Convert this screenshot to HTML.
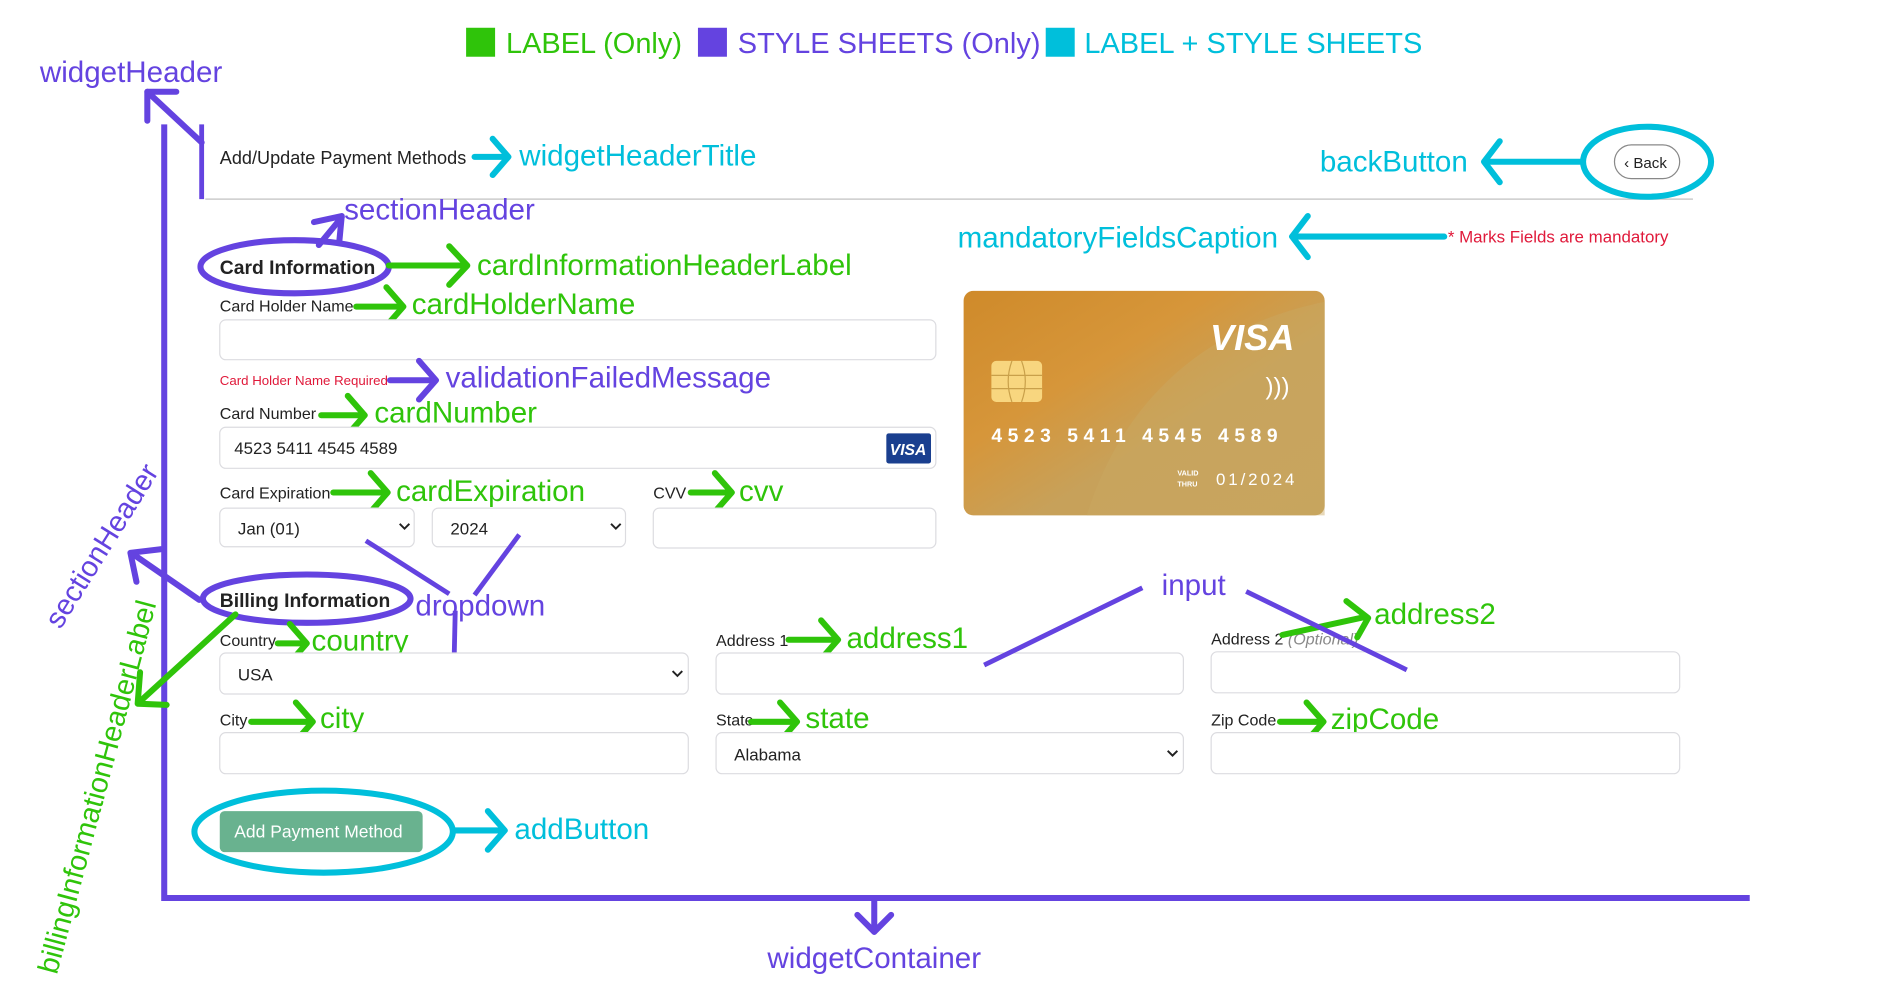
<!DOCTYPE html>
<html><head><meta charset="utf-8"><style>
html,body{margin:0;padding:0;background:#fff;width:1891px;height:997px;overflow:hidden}
svg{display:block}
.lab{font-family:"Liberation Sans",sans-serif;font-size:24.5px}
.g{fill:#2fc40a}.p{fill:#6443e0}.c{fill:#00bfdb}
.ui{font-family:"Liberation Sans",sans-serif;font-size:13.3px;fill:#222}
.ag{stroke:#2fc40a;stroke-width:5;fill:none;stroke-linecap:round;stroke-linejoin:round}
.ap{stroke:#6443e0;stroke-width:5;fill:none;stroke-linecap:round;stroke-linejoin:round}
.ac{stroke:#00bfdb;stroke-width:5;fill:none;stroke-linecap:round;stroke-linejoin:round}
.box{fill:#fff;stroke:#dcdce0;stroke-width:1}
</style></head><body>
<svg width="1891" height="997" viewBox="0 0 1566 826" preserveAspectRatio="none" xmlns="http://www.w3.org/2000/svg">
<defs>
<linearGradient id="gold" x1="0" y1="0" x2="1" y2="1">
<stop offset="0" stop-color="#cf8a2a"/><stop offset="0.35" stop-color="#d6963a"/><stop offset="0.6" stop-color="#c7a15a"/><stop offset="1" stop-color="#c5a25c"/>
</linearGradient>
</defs>
<rect x="386" y="23" width="24" height="24" fill="#2fc40a"/>
<text x="419" y="44" class="lab g" style="font-size:24px">LABEL (Only)</text>
<rect x="578" y="23" width="24" height="24" fill="#6443e0"/>
<text x="611" y="44" class="lab p" style="font-size:24px">STYLE SHEETS (Only)</text>
<rect x="866" y="23" width="24" height="24" fill="#00bfdb"/>
<text x="898" y="44" class="lab c" style="font-size:24px">LABEL + STYLE SHEETS</text>

<text x="33" y="68" class="lab p">widgetHeader</text>
<polyline class="ap" points="167,118 122,76"/>
<polyline class="ap" points="122,100 122,76 146,76"/>
<line x1="167" y1="103" x2="167" y2="165" stroke="#6443e0" stroke-width="4"/>
<line x1="170" y1="165" x2="1402" y2="165" stroke="#ccc" stroke-width="1.2"/>
<path d="M136,103 V744 H1449" stroke="#6443e0" stroke-width="5" fill="none"/>
<polyline class="ap" points="724,746 724,772"/>
<polyline class="ap" points="710,758 724,772 738,758"/>
<text x="724" y="802" class="lab p" text-anchor="middle">widgetContainer</text>

<text x="182" y="136" class="ui" style="font-size:15px">Add/Update Payment Methods</text>
<polyline class="ac" points="393,130 420,130"/><polyline class="ac" points="408,115 421,130 408,145"/>
<text x="430" y="137" class="lab c">widgetHeaderTitle</text>

<text x="1093" y="142" class="lab c">backButton</text>
<polyline class="ac" points="1310,134 1230,134"/><polyline class="ac" points="1242,117 1229,134 1242,151"/>
<ellipse cx="1364" cy="134" rx="53" ry="29" fill="none" stroke="#00bfdb" stroke-width="5"/>
<rect x="1337" y="120" width="54" height="28" rx="14" fill="#fff" stroke="#888" stroke-width="1"/>
<text x="1345" y="139" class="ui" style="font-size:12.5px">‹ Back</text>

<text x="793" y="205" class="lab c">mandatoryFieldsCaption</text>
<polyline class="ac" points="1196,196 1071,196"/><polyline class="ac" points="1083,179 1070,196 1083,213"/>
<text x="1199" y="201" class="ui" style="fill:#e0193a;font-size:14px">* Marks Fields are mandatory</text>

<text x="285" y="182" class="lab p">sectionHeader</text>
<polyline class="ap" points="264,203 283,180"/><polyline class="ap" points="260,184 283,179 281,200"/>
<text x="182" y="227" class="ui" style="font-size:16px;font-weight:bold">Card Information</text>
<ellipse cx="244" cy="221" rx="78" ry="22" fill="none" stroke="#6443e0" stroke-width="5"/>
<polyline class="ag" points="322,220 386,220"/><polyline class="ag" points="372,204 387,220 372,236"/>
<text x="395" y="228" class="lab g">cardInformationHeaderLabel</text>

<text x="182" y="258" class="ui">Card Holder Name</text>
<polyline class="ag" points="295,254 333,254"/><polyline class="ag" points="320,238 334,254 320,270"/>
<text x="341" y="260" class="lab g">cardHolderName</text>
<rect x="182" y="265" width="593" height="33" rx="5" class="box"/>

<text x="182" y="319" class="ui" style="fill:#e0193a;font-size:11px">Card Holder Name Required</text>
<polyline class="ap" points="323,315 360,315"/><polyline class="ap" points="347,299 361,315 347,331"/>
<text x="369" y="321" class="lab p">validationFailedMessage</text>

<text x="182" y="347" class="ui">Card Number</text>
<polyline class="ag" points="266,344 301,344"/><polyline class="ag" points="288,328 302,344 288,360"/>
<text x="310" y="350" class="lab g">cardNumber</text>
<rect x="182" y="354" width="593" height="34" rx="5" class="box"/>
<text x="194" y="376" class="ui" style="font-size:14px">4523 5411 4545 4589</text>
<rect x="734" y="359" width="37" height="25" rx="2" fill="#1a3f8f"/>
<text x="752" y="377" text-anchor="middle" style="font-family:'Liberation Sans',sans-serif;font-size:13px;font-weight:bold;font-style:italic;fill:#fff">VISA</text>

<text x="182" y="413" class="ui">Card Expiration</text>
<polyline class="ag" points="276,408 320,408"/><polyline class="ag" points="307,392 321,408 307,424"/>
<text x="328" y="415" class="lab g">cardExpiration</text>
<text x="541" y="413" class="ui">CVV</text>
<polyline class="ag" points="572,408 605,408"/><polyline class="ag" points="592,392 606,408 592,424"/>
<text x="612" y="415" class="lab g">cvv</text>
<rect x="182" y="421" width="161" height="32" rx="5" class="box"/>
<text x="197" y="443" class="ui" style="font-size:14px">Jan (01)</text>
<polyline points="331,434 335,438 339,434" stroke="#222" stroke-width="1.6" fill="none"/>
<rect x="358" y="421" width="160" height="32" rx="5" class="box"/>
<text x="373" y="443" class="ui" style="font-size:14px">2024</text>
<polyline points="506,434 510,438 514,434" stroke="#222" stroke-width="1.6" fill="none"/>
<rect x="541" y="421" width="234" height="33" rx="5" class="box"/>
<line x1="303" y1="448" x2="372" y2="492" stroke="#6443e0" stroke-width="4"/>
<line x1="430" y1="443" x2="393" y2="493" stroke="#6443e0" stroke-width="4"/>
<line x1="377" y1="506" x2="376" y2="550" stroke="#6443e0" stroke-width="4"/>
<text x="344" y="510" class="lab p">dropdown</text>

<rect x="798" y="241" width="299" height="186" rx="8" fill="url(#gold)"/>
<path d="M900,427 C930,330 1000,270 1097,250 L1097,427 Z" fill="#c9a862" opacity="0.45"/>
<text x="1072" y="290" text-anchor="end" style="font-family:'Liberation Sans',sans-serif;font-size:30px;font-weight:bold;font-style:italic;fill:#fff">VISA</text>
<rect x="821" y="299" width="42" height="34" rx="4" fill="#f8d67f"/>
<path d="M821,311 H863 M821,322 H863 M838,299 C834,310 834,322 838,333 M846,299 C850,310 850,322 846,333" stroke="#c9a04a" stroke-width="1" fill="none"/>
<text x="1048" y="327" style="font-family:'Liberation Sans',sans-serif;font-size:20px;fill:#fff">)))</text>
<text x="821" y="366" textLength="237" lengthAdjust="spacing" style="font-family:'Liberation Sans',sans-serif;font-size:16px;font-weight:bold;fill:#fff">4523  5411  4545  4589</text>
<text x="975" y="394" style="font-family:'Liberation Sans',sans-serif;font-size:6px;font-weight:bold;fill:#fff">VALID</text>
<text x="975" y="403" style="font-family:'Liberation Sans',sans-serif;font-size:6px;font-weight:bold;fill:#fff">THRU</text>
<text x="1007" y="402" textLength="65" style="font-family:'Liberation Sans',sans-serif;font-size:14px;fill:#fff">01/2024</text>

<text x="182" y="503" class="ui" style="font-size:16px;font-weight:bold">Billing Information</text>
<ellipse cx="254" cy="496" rx="86" ry="20" fill="none" stroke="#6443e0" stroke-width="5"/>
<polyline class="ap" points="165,497 110,459"/><polyline class="ap" points="113,482 108,458 133,455"/>
<text transform="translate(50,522) rotate(-58)" class="lab p" style="font-size:24px">sectionHeader</text>
<polyline class="ag" points="195,509 115,582"/><polyline class="ag" points="116,557 114,583 138,584"/>
<text transform="translate(47,808) rotate(-75)" class="lab g" style="font-size:24px">billingInformationHeaderLabel</text>

<text x="182" y="535" class="ui">Country</text>
<polyline class="ag" points="230,533 253,533"/><polyline class="ag" points="240,517 254,533 240,549"/>
<text x="258" y="539" class="lab g">country</text>
<rect x="182" y="541" width="388" height="34" rx="5" class="box"/>
<text x="197" y="564" class="ui" style="font-size:14px">USA</text>
<polyline points="557,556 561,560 565,556" stroke="#222" stroke-width="1.6" fill="none"/>

<text x="593" y="535" class="ui">Address 1</text>
<polyline class="ag" points="653,530 693,530"/><polyline class="ag" points="680,514 694,530 680,546"/>
<text x="701" y="537" class="lab g">address1</text>
<rect x="593" y="541" width="387" height="34" rx="5" class="box"/>

<text x="1003" y="534" class="ui">Address 2 <tspan style="font-style:italic;fill:#888">(Optional)</tspan></text>
<polyline class="ag" points="1062,526 1131,511"/><polyline class="ag" points="1115,498 1133,512 1124,528"/>
<text x="1138" y="517" class="lab g">address2</text>
<rect x="1003" y="540" width="388" height="34" rx="5" class="box"/>
<line x1="815" y1="551" x2="946" y2="487" stroke="#6443e0" stroke-width="4"/>
<line x1="1032" y1="490" x2="1165" y2="555" stroke="#6443e0" stroke-width="4"/>
<text x="962" y="493" class="lab p">input</text>

<text x="182" y="601" class="ui">City</text>
<polyline class="ag" points="208,598 258,598"/><polyline class="ag" points="245,582 259,598 245,614"/>
<text x="265" y="603" class="lab g">city</text>
<rect x="182" y="607" width="388" height="34" rx="5" class="box"/>

<text x="593" y="601" class="ui">State</text>
<polyline class="ag" points="622,598 659,598"/><polyline class="ag" points="646,582 660,598 646,614"/>
<text x="667" y="603" class="lab g">state</text>
<rect x="593" y="607" width="387" height="34" rx="5" class="box"/>
<text x="608" y="630" class="ui" style="font-size:14px">Alabama</text>
<polyline points="967,622 971,626 975,622" stroke="#222" stroke-width="1.6" fill="none"/>

<text x="1003" y="601" class="ui">Zip Code</text>
<polyline class="ag" points="1060,598 1095,598"/><polyline class="ag" points="1082,582 1096,598 1082,614"/>
<text x="1102" y="604" class="lab g">zipCode</text>
<rect x="1003" y="607" width="388" height="34" rx="5" class="box"/>

<rect x="182" y="672" width="168" height="34" rx="4" fill="#69b28f"/>
<text x="194" y="694" style="font-family:'Liberation Sans',sans-serif;font-size:14.5px;fill:#fff">Add Payment Method</text>
<ellipse cx="268" cy="689" rx="107" ry="34" fill="none" stroke="#00bfdb" stroke-width="5"/>
<polyline class="ac" points="376,688 416,688"/><polyline class="ac" points="404,672 418,688 404,704"/>
<text x="426" y="695" class="lab c">addButton</text>
</svg>
</body></html>
